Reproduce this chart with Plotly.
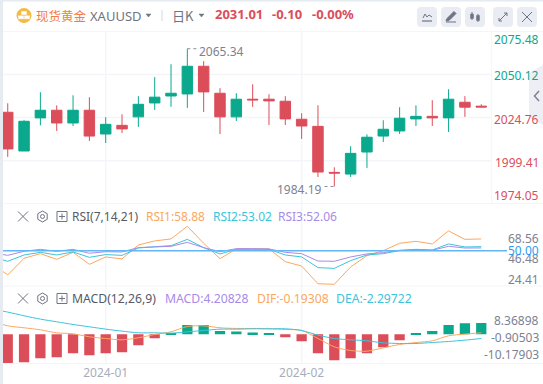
import plotly.graph_objects as go

W, H = 543, 384

# ---------- data ----------
candle_idx = list(range(30))
opens = [2027.9,2005.1,2024.6,2029.1,2021.6,2029.1,2015.1,2020.2,2025.2,2033.4,2037.5,2038.7,2055.0,2039.1,2025.2,2035.6,2035.6,2034.4,2023.8,2019.6,1992.5,1991.5,2004.5,2013.9,2016.9,2024.0,2025.5,2024.6,2033.8,2031.5]
highs = [2033.2,2023.2,2039.7,2032.0,2037.9,2036.8,2025.0,2026.7,2037.4,2048.6,2056.2,2065.34,2058.0,2042.1,2039.1,2044.4,2038.5,2037.4,2027.3,2032.0,1995.5,2007.9,2014.9,2023.2,2030.9,2032.0,2035.0,2041.5,2037.4,2032.6]
lows = [2001.6,2005.1,2020.2,2016.9,2019.8,2011.0,2009.8,2015.7,2019.3,2029.3,2031.1,2030.5,2028.1,2015.1,2022.8,2031.1,2020.4,2020.4,2012.2,1989.8,1984.19,1989.8,1995.1,2010.4,2015.1,2019.8,2019.8,2016.3,2025.2,2031.0]
closes = [2006.3,2022.6,2029.1,2021.6,2029.1,2013.9,2020.8,2018.1,2032.6,2036.8,2039.1,2055.0,2039.9,2025.2,2035.6,2035.2,2034.6,2024.0,2019.8,1992.7,1992.1,2003.7,2013.2,2017.9,2024.4,2025.5,2024.6,2035.6,2030.9,2031.01]

line_idx = list(range(-1, 30))
rsi1 = [40.4,31.5,44.2,47.7,43.4,48.7,39.6,45.2,43.7,54.3,57.4,58.9,68.56,55.6,43.9,51.3,51.3,51.3,41.6,38.3,24.8,24.41,37.6,46.2,50.0,55.6,57.1,55.1,65.0,58.6,58.88]
rsi2 = [45.4,41.9,46.7,48.7,46.7,49.0,44.9,47.0,46.4,52.0,53.0,53.8,58.6,52.3,47.5,51.0,51.0,51.0,46.7,45.2,37.1,36.5,42.4,46.7,47.7,50.0,51.0,50.5,55.1,52.8,53.02]
rsi3 = [48.5,46.4,49.5,51.0,49.5,51.0,48.0,49.2,49.0,52.3,52.8,53.3,56.3,52.3,49.2,51.5,51.5,51.3,48.7,47.7,42.1,41.9,45.2,47.5,48.5,50.3,50.8,50.3,53.3,52.0,52.06]

macd_bars = [-11.08,-10.7,-9.17,-8.79,-7.26,-8.03,-7.26,-6.88,-4.2,-1.53,0.3,3.44,3.44,1.15,1.0,0.64,0.4,-1.15,-2.68,-7.26,-9.94,-9.17,-7.26,-4.97,-2.29,0.25,1.15,3.44,4.2,4.20828]
dif = [4.97,3.18,2.42,1.66,0.51,0.13,-1.02,-1.66,-2.17,-1.40,-0.13,0.89,2.93,3.18,2.42,2.17,2.17,2.04,1.78,1.40,-1.66,-4.84,-6.24,-6.50,-5.22,-3.95,-3.19,-2.55,-0.64,0.0,0.51]
dea = [9.55,8.41,7.01,5.73,4.71,3.69,2.80,1.91,1.15,0.51,0.51,0.38,0.89,1.40,1.91,1.91,2.04,2.04,2.04,1.40,-0.38,-1.66,-2.17,-2.55,-3.31,-3.57,-3.57,-3.19,-2.80,-2.29,-1.66]

date_positions = [6, 18]
date_labels = ["2024-01", "2024-02"]

price_grid = [2050.12, 2024.76, 1999.41]
price_labels = ["2075.48", "2050.12", "2024.76", "1999.41", "1974.05"]
rsi_labels = ["68.56", "46.48", "24.41"]
macd_labels = ["8.36898", "-0.90503", "-10.17903"]

# ---------- styling ----------
GREEN, RED = "#0aa98d", "#dc4d5a"
ORANGE, CYAN, PURPLE = "#fba860", "#3cc4dc", "#a78be8"
GRID = "#f3f5f8"
TXT = "#7d8292"
FONT = "Noto Sans"
CJK = "Noto Sans CJK SC"

def px(x): return x / W
def py(y): return 1 - y / H
def dom(top, bottom): return [py(bottom), py(top)]

X_RANGE = [-0.29, 29.64]
PLOT_L, PLOT_R = 3, 491.7

fig = go.Figure()
fig.add_trace(go.Candlestick(
    x=candle_idx, open=opens, high=highs, low=lows, close=closes,
    increasing=dict(line=dict(color=GREEN, width=1), fillcolor=GREEN),
    decreasing=dict(line=dict(color=RED, width=1), fillcolor=RED),
    whiskerwidth=0, xaxis="x", yaxis="y", hoverinfo="skip"))

for vals, col in [(rsi1, ORANGE), (rsi2, CYAN), (rsi3, PURPLE)]:
    fig.add_trace(go.Scatter(x=line_idx, y=vals, mode="lines", line=dict(color=col, width=1),
                             xaxis="x2", yaxis="y2", hoverinfo="skip"))

fig.add_trace(go.Bar(x=candle_idx, y=macd_bars,
                     marker=dict(color=[GREEN if v > 0 else RED for v in macd_bars], line=dict(width=0)),
                     xaxis="x3", yaxis="y3", hoverinfo="skip"))
for vals, col in [(dif, ORANGE), (dea, CYAN)]:
    fig.add_trace(go.Scatter(x=line_idx, y=vals, mode="lines",
                             line=dict(color=col, width=1, shape="spline", smoothing=0.8),
                             xaxis="x3", yaxis="y3", hoverinfo="skip"))

shapes, annos = [], []

def path(points, color, width=1, fill=None, closed=False):
    d = "M" + "L".join(f"{px(a):.5f},{py(b):.5f}" for a, b in points) + ("Z" if closed else "")
    shapes.append(dict(type="path", xref="paper", yref="paper", path=d,
                       line=dict(color=color, width=width), fillcolor=fill or "rgba(0,0,0,0)", layer="above"))

def rect(x0, y0, x1, y1, fill, layer="below"):
    shapes.append(dict(type="rect", xref="paper", yref="paper", x0=px(x0), x1=px(x1), y0=py(y0), y1=py(y1),
                       fillcolor=fill, line=dict(width=0), layer=layer))

def rrect(x0, y0, x1, y1, r, fill):
    d = (f"M{px(x0+r):.5f},{py(y0):.5f}L{px(x1-r):.5f},{py(y0):.5f}Q{px(x1):.5f},{py(y0):.5f} {px(x1):.5f},{py(y0+r):.5f}"
         f"L{px(x1):.5f},{py(y1-r):.5f}Q{px(x1):.5f},{py(y1):.5f} {px(x1-r):.5f},{py(y1):.5f}"
         f"L{px(x0+r):.5f},{py(y1):.5f}Q{px(x0):.5f},{py(y1):.5f} {px(x0):.5f},{py(y1-r):.5f}"
         f"L{px(x0):.5f},{py(y0+r):.5f}Q{px(x0):.5f},{py(y0):.5f} {px(x0+r):.5f},{py(y0):.5f}Z")
    shapes.append(dict(type="path", xref="paper", yref="paper", path=d, fillcolor=fill, line=dict(width=0), layer="below"))

def circle(cx, cy, r, color=None, fill=None, width=1):
    shapes.append(dict(type="circle", xref="paper", yref="paper", x0=px(cx-r), x1=px(cx+r), y0=py(cy+r), y1=py(cy-r),
                       line=dict(color=color or "rgba(0,0,0,0)", width=width if color else 0),
                       fillcolor=fill or "rgba(0,0,0,0)", layer="above"))

def text(x, y, s, color=TXT, size=12, anchor="left", family=FONT, bold=False):
    annos.append(dict(xref="paper", yref="paper", x=px(x), y=py(y), text=f"<b>{s}</b>" if bold else s, showarrow=False,
                      xanchor=anchor, yanchor="middle", align=anchor,
                      font=dict(family=family, size=size, color=color), borderpad=0, borderwidth=0))

# frame
rect(0, 0, 3, H, "#e6eaf1")
rect(0, 0, W, 1.5, "#e6eaf1")
# pane separators
for y in [31.5, 203.5, 286, 363.5]:
    path([(PLOT_L, y), (W, y)], GRID, 1)
# vertical grid: price axis border, date lines
path([(PLOT_R, 31.5), (PLOT_R, 203.5)], GRID, 1)
for d in date_positions:
    shapes.append(dict(type="line", xref="x", yref="paper", x0=d, x1=d, y0=py(363.5), y1=py(31.5),
                       line=dict(color=GRID, width=1.5), layer="below"))
# price grid
for p in price_grid:
    shapes.append(dict(type="line", xref="paper", yref="y", x0=px(PLOT_L), x1=px(PLOT_R), y0=p, y1=p,
                       line=dict(color=GRID, width=1.5), layer="below"))
# RSI 50 line
shapes.append(dict(type="line", xref="paper", yref="y2", x0=px(PLOT_L), x1=px(507), y0=50, y1=50,
                   line=dict(color="#64b5f6", width=1.5), layer="above"))
# high / low dotted leaders
shapes.append(dict(type="line", xref="x", yref="y", x0=11, x1=11.6, y0=2065.34, y1=2065.34,
                   line=dict(color="#8a8f9c", width=1, dash="dot")))
shapes.append(dict(type="line", xref="x", yref="y", x0=19.4, x1=20, y0=1984.19, y1=1984.19,
                   line=dict(color="#8a8f9c", width=1, dash="dot")))
annos.append(dict(xref="x", yref="y", x=11.6, y=2065.34, text="2065.34", showarrow=False, xanchor="left", yanchor="middle",
                  xshift=0, yshift=-3, font=dict(family=FONT, size=12, color="#7d8292")))
annos.append(dict(xref="x", yref="y", x=19.4, y=1984.19, text="1984.19", showarrow=False, xanchor="right", yanchor="middle",
                  xshift=-1, yshift=-3, font=dict(family=FONT, size=12, color="#7d8292")))

# axis labels
for s, y, c in zip(price_labels, [40, 75, 119.3, 162.3, 195.7], [GREEN, GREEN, RED, RED, RED]):
    text(539, y, s, c, anchor="right")
for s, y in zip(rsi_labels, [238, 258.3, 279]):
    text(539, y, s, anchor="right")
text(539, 250.7, "50.00", "#2f9bf0", anchor="right")
for s, y in zip(macd_labels, [320, 337.3, 354.3]):
    text(539, y, s, anchor="right")

# pane legends
def pane_icons(y):
    path([(18, y-5), (28, y+5)], "#6f7483"); path([(28, y-5), (18, y+5)], "#6f7483")
    hexa = [(42.5, y-5.5), (47.2, y-2.8), (47.2, y+2.8), (42.5, y+5.5), (37.8, y+2.8), (37.8, y-2.8)]
    path(hexa, "#6f7483", 1, closed=True)
    circle(42.5, y, 2, "#6f7483")
    path([(57, y-5), (67, y-5), (67, y+5), (57, y+5)], "#6f7483", 1, closed=True)
    path([(59, y), (65, y)], "#6f7483"); path([(62, y-3), (62, y+3)], "#6f7483")

pane_icons(216.5)
text(71.5, 216.5, "RSI(7,14,21)", "#555a66", 12)
text(146, 216.5, "RSI1:58.88", ORANGE, 12)
text(212.5, 216.5, "RSI2:53.02", CYAN, 12)
text(278, 216.5, "RSI3:52.06", PURPLE, 12)
pane_icons(298.5)
text(71.5, 298.5, "MACD(12,26,9)", "#555a66", 12.2)
text(165, 298.5, "MACD:4.20828", PURPLE, 12.2)
text(257, 298.5, "DIF:-0.19308", ORANGE, 12.2)
text(336, 298.5, "DEA:-2.29722", CYAN, 12.2)

# header
circle(24, 15.5, 7.5, None, "#f1bb45")
path([(21.5, 11.5), (26.5, 11.5), (26.5, 14.5), (21.5, 14.5)], "#ffffff", 0.5, "#ffffff", True)
path([(18.5, 15.8), (23.5, 15.8), (23.5, 18.8), (18.5, 18.8)], "#ffffff", 0.5, "#ffffff", True)
path([(24.5, 15.8), (29.5, 15.8), (29.5, 18.8), (24.5, 18.8)], "#ffffff", 0.5, "#ffffff", True)
text(36, 15, "现货黄金", "#f47c4c", 12.5, family=CJK)
text(90, 15.5, "XAUUSD", "#6f7483", 13)
path([(146, 14), (151, 14), (148.5, 17)], "#6f7483", 0.5, "#6f7483", True)
path([(162, 10), (162, 21)], "#d4d8e0")
text(171.5, 15, "日K", "#6f7483", 13, family=CJK)
path([(199, 14), (204, 14), (201.5, 17)], "#6f7483", 0.5, "#6f7483", True)
text(215, 14.5, "2031.01", RED, 13, bold=True)
text(272, 14.5, "-0.10", RED, 13, bold=True)
text(312, 14.5, "-0.00%", RED, 13, bold=True)

# toolbar
for x0 in [417, 441, 465, 493, 517]:
    rrect(x0, 7, x0+20, 27, 4, "#e9ecf2")
ic = "#6f7483"
path([(423, 18), (425, 14), (427, 17), (429, 15), (432, 17)], ic)
path([(422, 21), (432, 21)], ic, 1.2)
path([(446, 21), (449, 20.5), (456, 13.5), (454, 11.5), (447, 18.5)], ic, 1, ic, True)
path([(446, 22), (456, 22)], ic, 1)
path([(472, 12), (472, 20)], ic, 1); path([(478, 14), (478, 22)], ic, 1)
path([(470.5, 14), (473.5, 14), (473.5, 18.5), (470.5, 18.5)], ic, 0.5, ic, True)
path([(476.5, 15.5), (479.5, 15.5), (479.5, 20.5), (476.5, 20.5)], ic, 0.5, ic, True)
path([(499, 21), (507, 13)], ic, 1)
path([(504, 13), (507, 13), (507, 16)], ic, 1); path([(499, 18), (499, 21), (502, 21)], ic, 1)
path([(522, 12), (532, 22)], ic, 1); path([(532, 12), (522, 22)], ic, 1)

# side tab
path([(543, 65), (529, 73), (529, 117), (543, 125)], "#eeeff4", 0, "#eeeff4", True)
path([(539, 91), (534.5, 96), (539, 101)], "#7d8292", 1.5)

fig.update_layout(
    width=W, height=H, margin=dict(l=0, r=0, t=0, b=0),
    paper_bgcolor="#ffffff", plot_bgcolor="rgba(0,0,0,0)", showlegend=False,
    bargap=0.37, boxgap=0.36, boxgroupgap=0, shapes=shapes, annotations=annos, hovermode=False,
    font=dict(family=FONT),
    xaxis=dict(domain=[px(PLOT_L), px(PLOT_R)], range=X_RANGE, visible=False, rangeslider=dict(visible=False), fixedrange=True),
    xaxis2=dict(domain=[px(PLOT_L), px(PLOT_R)], range=X_RANGE, visible=False, anchor="y2", fixedrange=True),
    xaxis3=dict(domain=[px(PLOT_L), px(PLOT_R)], range=X_RANGE, anchor="y3", showgrid=False, zeroline=False,
                showline=False, ticks="", tickmode="array", tickvals=date_positions, ticktext=date_labels,
                tickfont=dict(family=FONT, size=12, color="#a9adb9"), fixedrange=True),
    yaxis=dict(domain=dom(31.5, 203.7), range=[1974.05, 2075.48], visible=False, fixedrange=True),
    yaxis2=dict(domain=dom(207, 286), range=[23.1, 83.2], visible=False, anchor="x2", fixedrange=True),
    yaxis3=dict(domain=dom(288, 363.5), range=[-11.2, 17.6], visible=False, anchor="x3", fixedrange=True),
)

fig.write_html("out.html", config=dict(displayModeBar=False),
               post_script="document.body.style.margin='0';document.body.style.overflow='hidden';")
